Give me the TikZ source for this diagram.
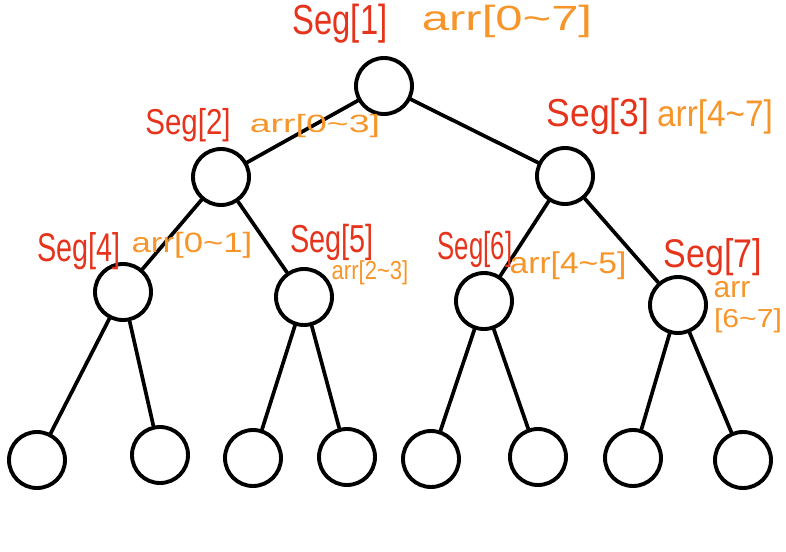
\documentclass[tikz,border=0pt]{standalone}
\usepackage{fontspec}
\setmainfont{Liberation Sans}
\newcommand\wave{\textasciitilde}
\definecolor{segred}{RGB}{230,52,28}
\definecolor{arrorange}{RGB}{246,150,42}
\begin{document}
\begin{tikzpicture}[x=1pt,y=-1pt,
  tnode/.style={circle,draw=black,line width=3.9pt,minimum size=56pt,inner sep=0pt,fill=white},
  edge/.style={line width=3.7pt,line cap=round},
  seglbl/.style={text=segred,inner sep=0pt,transform shape},
  arrlbl/.style={text=arrorange,inner sep=0pt,transform shape}]
\useasboundingbox (0,0) rectangle (786,551);

% tree nodes
\node[tnode] (n1) at (384,86) {};
\node[tnode] (n2) at (221,177) {};
\node[tnode] (n3) at (565,176) {};
\node[tnode] (n4) at (123,292) {};
\node[tnode] (n5) at (304,297) {};
\node[tnode] (n6) at (484,301) {};
\node[tnode] (n7) at (678,305) {};
\node[tnode] (l1) at (37,460) {};
\node[tnode] (l2) at (160,455) {};
\node[tnode] (l3) at (253,458) {};
\node[tnode] (l4) at (347,457) {};
\node[tnode] (l5) at (431,459) {};
\node[tnode] (l6) at (538,457) {};
\node[tnode] (l7) at (633,458) {};
\node[tnode] (l8) at (743,460) {};

% edges
\draw[edge] (n1) -- (n2);
\draw[edge] (n1) -- (n3);
\draw[edge] (n2) -- (n4);
\draw[edge] (n2) -- (n5);
\draw[edge] (n3) -- (n6);
\draw[edge] (n3) -- (n7);
\draw[edge] (n4) -- (l1);
\draw[edge] (n4) -- (l2);
\draw[edge] (n5) -- (l3);
\draw[edge] (n5) -- (l4);
\draw[edge] (n6) -- (l5);
\draw[edge] (n6) -- (l6);
\draw[edge] (n7) -- (l7);
\draw[edge] (n7) -- (l8);

% segment labels
\node[seglbl,xscale=0.78,font=\fontsize{42}{42}\selectfont] (s1) at (340,24) {Seg[1]};
\node[arrlbl,xscale=1.4,font=\fontsize{35}{35}\selectfont] (a1) at (507,21) {arr[0\wave7]};
\node[seglbl,xscale=0.82,font=\fontsize{36}{36}\selectfont] (s2) at (188,125) {Seg[2]};
\node[arrlbl,xscale=1.5,font=\fontsize{25}{25}\selectfont] (a2) at (315,126) {arr[0\wave3]};
\node[seglbl,xscale=0.91,font=\fontsize{39}{39}\selectfont] (s3) at (598,116) {Seg[3]};
\node[arrlbl,xscale=0.9,font=\fontsize{37}{37}\selectfont] (a3) at (715,117) {arr[4\wave7]};
\node[seglbl,xscale=0.72,font=\fontsize{40}{40}\selectfont] (s4) at (79,251) {Seg[4]};
\node[arrlbl,xscale=1.24,font=\fontsize{28}{28}\selectfont] (a4) at (192,245) {arr[0\wave1]};
\node[seglbl,xscale=0.74,font=\fontsize{39}{39}\selectfont] (s5) at (332,242) {Seg[5]};
\node[arrlbl,xscale=0.85,font=\fontsize{26}{26}\selectfont] (a5) at (370,273) {arr[2\wave3]};
\node[seglbl,xscale=0.66,font=\fontsize{39}{39}\selectfont] (s6) at (475,249) {Seg[6]};
\node[arrlbl,xscale=1.12,font=\fontsize{30}{30}\selectfont] (a6) at (568,266) {arr[4\wave5]};
\node[seglbl,xscale=0.85,font=\fontsize{40}{40}\selectfont] (s7) at (713,257) {Seg[7]};
\node[arrlbl,xscale=1.0,font=\fontsize{30}{30}\selectfont] (a7) at (732,290) {arr};
\node[arrlbl,xscale=1.16,font=\fontsize{26}{26}\selectfont] (a7b) at (748,321) {[6\wave7]};
\end{tikzpicture}
\end{document}
